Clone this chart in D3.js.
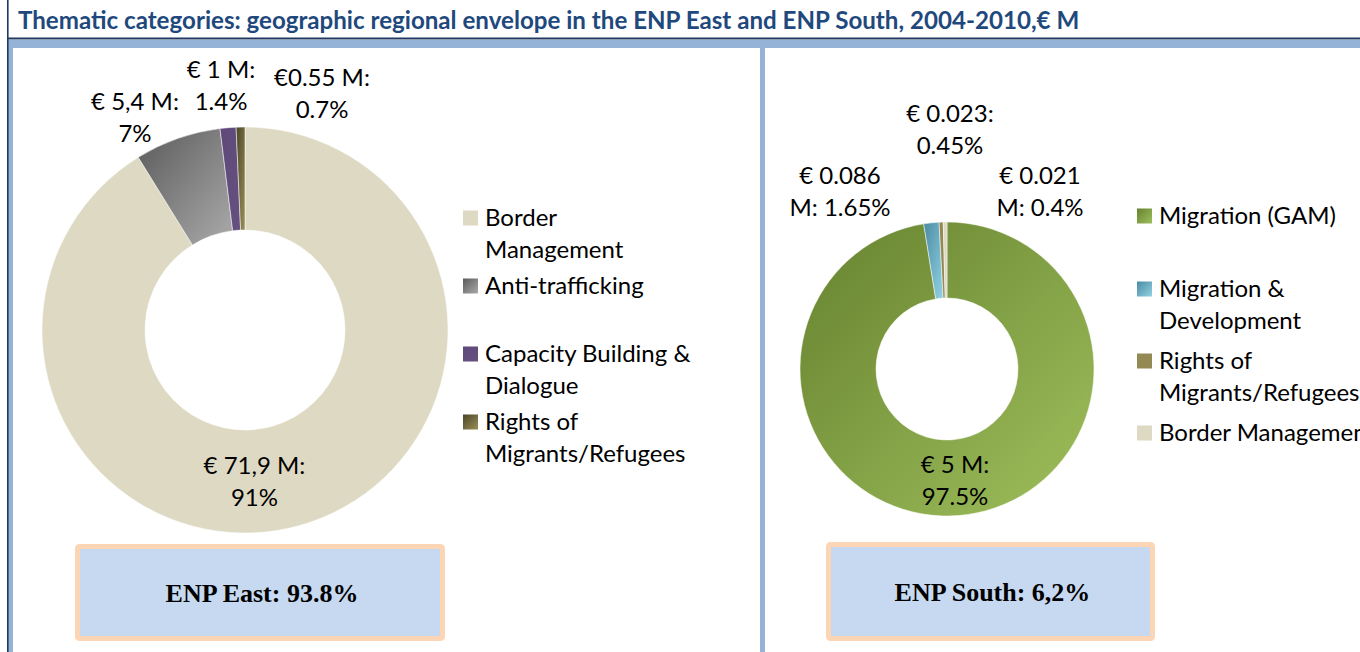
<!DOCTYPE html>
<html><head><meta charset="utf-8">
<script src="https://cdn.jsdelivr.net/npm/d3@7"></script>
<style>body{margin:0;background:#fff;}svg{display:block;}</style>
</head><body>
<svg id="c" width="1360" height="652"></svg>
<script>
// ---------- data ----------
const titleText = "Thematic categories: geographic regional envelope in the ENP East and ENP South, 2004-2010,€ M";
const eastCategories = [["Border", "Management"], ["Anti-trafficking"], ["Capacity Building &", "Dialogue"], ["Rights of", "Migrants/Refugees"]];
const eastValues = [71.9, 5.4, 1, 0.55];
const eastLabels = [["€ 71,9 M:", "91%"], ["€ 5,4 M:", "7%"], ["€ 1 M:", "1.4%"], ["€0.55 M:", "0.7%"]];
const eastTotal = "ENP East: 93.8%";
const southCategories = [["Migration (GAM)"], ["Migration &", "Development"], ["Rights of", "Migrants/Refugees"], ["Border Management"]];
const southValues = [5, 0.086, 0.023, 0.021];
const southLabels = [["€ 5 M:", "97.5%"], ["€ 0.086", "M: 1.65%"], ["€ 0.023:", "0.45%"], ["€ 0.021", "M: 0.4%"]];
const southTotal = "ENP South: 6,2%";

// ---------- styles / layout ----------
const eastColors = [["#ddd9c3", "#ddd9c3"], ["#5a5a5a", "#ababab"], ["#5f497a", "#65507f"], ["#4a4526", "#9a9058"]];
const southColors = [["#66822f", "#9fbf5c"], ["#4a8ba3", "#92d2e3"], ["#938953", "#938953"], ["#ddd9c3", "#ddd9c3"]];
const FONT = "Lato, 'Open Sans', sans-serif";
const FS = 24;

const east = {cx: 245, cy: 330, R: 203, r: 100,
  labelOffsets: [[-32, 6], [0, 0], [0, 0], [0, 0]],
  labelAbs: [null, [135, 118], [221, 86], [322, 94]],
  legendX: 463, legendTextX: 485, legendRows: [218, 286, 354, 422],
  box: [75, 544, 370, 97]};
const south = {cx: 947, cy: 369, R: 147, r: 71,
  labelOffsets: [[0, 0], [0, 0], [0, 0], [0, 0]],
  labelAbs: [[955, 481], [840, 192], [950, 130], [1040, 192]],
  legendX: 1137, legendTextX: 1159, legendRows: [216, 289, 361, 433],
  box: [826, 542, 329, 99]};

const svg = d3.select("#c");
const defs = svg.append("defs");

// ---------- frame ----------
svg.append("rect").attr("x", 8).attr("y", 40).attr("width", 1352).attr("height", 8).attr("fill", "#95b3d7");
svg.append("rect").attr("x", 8).attr("y", 40).attr("width", 5).attr("height", 612).attr("fill", "#95b3d7");
svg.append("rect").attr("x", 760).attr("y", 40).attr("width", 5).attr("height", 612).attr("fill", "#95b3d7");
svg.append("rect").attr("x", 7).attr("y", 0).attr("width", 1.6).attr("height", 652).attr("fill", "#1f3864");
svg.append("rect").attr("x", 7).attr("y", 37.5).attr("width", 1353).attr("height", 2).attr("fill", "#1f3864");

// title (fit width)
const title = svg.append("text").attr("x", 18).attr("y", 29)
  .attr("font-family", FONT).attr("font-weight", "bold").attr("font-size", 20)
  .attr("fill", "#1f497d").text(titleText);
const tw = title.node().getComputedTextLength();
title.attr("font-size", 20 * 1062 / tw);

function donut(cfg, cats, vals, labels, colors, total, key) {
  const pie = d3.pie().sort(null).value(d => d)(vals);
  const arc = d3.arc().innerRadius(cfg.r).outerRadius(cfg.R);
  colors.forEach((c, i) => {
    const g = defs.append("linearGradient").attr("id", key + i)
      .attr("x1", 0).attr("y1", 0).attr("x2", 1).attr("y2", 1);
    g.append("stop").attr("offset", 0).attr("stop-color", c[0]);
    g.append("stop").attr("offset", 1).attr("stop-color", c[1]);
  });
  const g = svg.append("g").attr("transform", `translate(${cfg.cx},${cfg.cy})`);
  g.selectAll("path").data(pie).join("path")
    .attr("d", arc).attr("fill", (d, i) => `url(#${key}${i})`)
    .attr("stroke", "#fff").attr("stroke-width", 0.5);

  // labels
  labels.forEach((lab, i) => {
    let x, y;
    if (cfg.labelAbs[i]) { [x, y] = cfg.labelAbs[i]; }
    else {
      const c = arc.centroid(pie[i]);
      x = cfg.cx + c[0] + cfg.labelOffsets[i][0];
      y = cfg.cy + c[1] + cfg.labelOffsets[i][1];
    }
    const t = svg.append("text")
      .attr("text-anchor", "middle").attr("font-family", FONT)
      .attr("font-size", FS).attr("fill", "#000");
    lab.forEach((s, j) => t.append("tspan").attr("x", x).attr("y", y - 8 + j * 32).text(s));
  });

  // legend
  cats.forEach((lines, i) => {
    const yy = cfg.legendRows[i];
    svg.append("rect").attr("x", cfg.legendX).attr("y", yy - 7.5).attr("width", 15).attr("height", 15)
      .attr("fill", `url(#${key}${i})`);
    const t = svg.append("text").attr("font-family", FONT).attr("font-size", FS).attr("fill", "#000");
    lines.forEach((s, j) => t.append("tspan").attr("x", cfg.legendTextX).attr("y", yy + 8 + j * 32).text(s));
  });

  // total box
  const [bx, by, bw, bh] = cfg.box;
  svg.append("rect").attr("x", bx + 2.5).attr("y", by + 2.5).attr("width", bw - 5).attr("height", bh - 5)
    .attr("rx", 2).attr("fill", "#c6d9f0").attr("stroke", "#fcd5b4").attr("stroke-width", 5);
  svg.append("text").attr("x", bx + bw / 2 + 2).attr("y", by + bh / 2 + 9)
    .attr("text-anchor", "middle").attr("font-family", "'Liberation Serif', serif")
    .attr("font-weight", "bold").attr("font-size", 26).attr("fill", "#000").text(total);
}

donut(east, eastCategories, eastValues, eastLabels, eastColors, eastTotal, "e");
donut(south, southCategories, southValues, southLabels, southColors, southTotal, "s");
</script>
</body></html>
